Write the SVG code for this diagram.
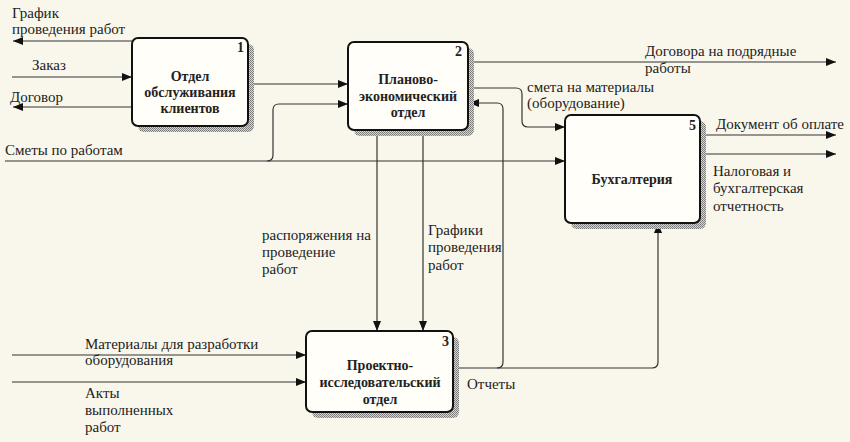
<svg xmlns="http://www.w3.org/2000/svg" width="850" height="442" viewBox="0 0 850 442">
<defs>
<pattern id="hatch" width="2" height="2" patternUnits="userSpaceOnUse">
<rect width="2" height="2" fill="#d8d6cc"/>
<rect width="1" height="1" fill="#777"/>
<rect x="1" y="1" width="1" height="1" fill="#888"/>
</pattern>
<marker id="ah" viewBox="0 0 10 8" refX="10" refY="4" markerWidth="10" markerHeight="8" markerUnits="userSpaceOnUse" orient="auto">
<path d="M0,0 L10,4 L0,8 Z" fill="#111"/>
</marker>
<style>
.bg{fill:#f9f7ec}
.box{fill:#fffef8;stroke:#111;stroke-width:2}
.sh{fill:url(#hatch)}
.bt{font-size:14px;font-weight:bold;fill:#222;text-anchor:middle}
.num{font-size:14px;font-weight:bold;fill:#222;text-anchor:end}
.lb{font-size:15px;fill:#222}
.c{fill:none;stroke:#333;stroke-width:1.2}
.a{marker-end:url(#ah)}
</style>
</defs>
<rect class="bg" x="0" y="0" width="850" height="442"/>

<g id="connectors">
<path class="c a" d="M132,41 H13"/>
<path class="c a" d="M12,77 H132"/>
<path class="c a" d="M132,107 H13"/>
<path class="c a" d="M254,84 H348"/>
<path class="c a" d="M5,161 H565"/>
<path class="c a" d="M267,161 Q273,161 273,155 V110 Q273,104 279,104 H348"/>
<path class="c a" d="M474,62 H836"/>
<path class="c a" d="M474,88 H516 Q522,88 522,94 V121 Q522,127 528,127 H565"/>
<path class="c a" d="M377,136 V331"/>
<path class="c a" d="M423,136 V331"/>
<path class="c a" d="M459,368 H652 Q658,368 658,362 V223"/>
<path class="c a" d="M497,368 Q503,368 503,362 V109 Q503,103 497,103 H469"/>
<path class="c a" d="M706,135 H836"/>
<path class="c a" d="M706,154 H836"/>
<path class="c a" d="M12,355 H306"/>
<path class="c a" d="M12,382 H306"/>
</g>

<g id="labels" font-family="Liberation Serif, Times New Roman, serif">
<text class="lb" x="12" y="18">График</text>
<text class="lb" x="12" y="34">проведения работ</text>
<text class="lb" x="32" y="70">Заказ</text>
<text class="lb" x="10" y="102">Договор</text>
<text class="lb" x="5" y="155">Сметы по работам</text>
<text class="lb" x="645" y="56">Договора на подрядные</text>
<text class="lb" x="645" y="73">работы</text>
<text class="lb" x="527" y="92">смета на материалы</text>
<text class="lb" x="527" y="108">(оборудование)</text>
<text class="lb" x="716" y="129">Документ об оплате</text>
<text class="lb" x="713" y="176">Налоговая и</text>
<text class="lb" x="713" y="193">бухгалтерская</text>
<text class="lb" x="713" y="211">отчетность</text>
<text class="lb" x="262" y="240">распоряжения на</text>
<text class="lb" x="262" y="257">проведение</text>
<text class="lb" x="262" y="274">работ</text>
<text class="lb" x="428" y="235">Графики</text>
<text class="lb" x="428" y="252">проведения</text>
<text class="lb" x="428" y="270">работ</text>
<text class="lb" x="85" y="349">Материалы для разработки</text>
<text class="lb" x="85" y="365">оборудования</text>
<text class="lb" x="85" y="398">Акты</text>
<text class="lb" x="85" y="415">выполненных</text>
<text class="lb" x="85" y="432">работ</text>
<text class="lb" x="467" y="389">Отчеты</text>
</g>

<g id="node1" font-family="Liberation Serif, Times New Roman, serif">
<rect class="sh" x="138" y="44" width="116" height="88" rx="6"/>
<rect class="box" x="132" y="38" width="116" height="88" rx="6"/>
<text class="num" x="244" y="52">1</text>
<text class="bt" x="190" y="81">Отдел</text>
<text class="bt" x="190" y="97">обслуживания</text>
<text class="bt" x="190" y="113">клиентов</text>
</g>

<g id="node2" font-family="Liberation Serif, Times New Roman, serif">
<rect class="sh" x="354" y="48" width="120" height="88" rx="6"/>
<rect class="box" x="348" y="42" width="120" height="88" rx="6"/>
<text class="num" x="462" y="56">2</text>
<text class="bt" x="408" y="84">Планово-</text>
<text class="bt" x="408" y="101">экономический</text>
<text class="bt" x="408" y="117">отдел</text>
</g>

<g id="node5" font-family="Liberation Serif, Times New Roman, serif">
<rect class="sh" x="571" y="121" width="135" height="108" rx="6"/>
<rect class="box" x="565" y="115" width="135" height="108" rx="6"/>
<text class="num" x="696" y="130">5</text>
<text class="bt" x="632" y="184">Бухгалтерия</text>
</g>

<g id="node3" font-family="Liberation Serif, Times New Roman, serif">
<rect class="sh" x="312" y="337" width="147" height="81" rx="6"/>
<rect class="box" x="306" y="331" width="147" height="81" rx="6"/>
<text class="num" x="449" y="346">3</text>
<text class="bt" x="380" y="370">Проектно-</text>
<text class="bt" x="380" y="387">исследовательский</text>
<text class="bt" x="380" y="404">отдел</text>
</g>
</svg>
